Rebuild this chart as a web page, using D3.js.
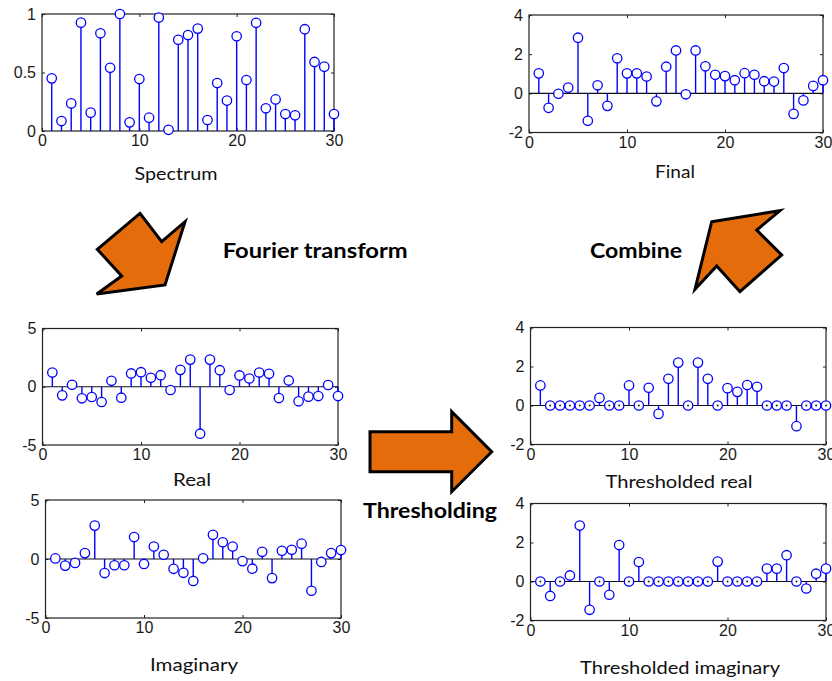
<!DOCTYPE html>
<html>
<head>
<meta charset="utf-8">
<script src="https://cdn.jsdelivr.net/npm/d3@7"></script>
<style>
  html, body { margin: 0; padding: 0; background: #ffffff; }
  svg { display: block; }
</style>
</head>
<body>
<div id="chart"></div>
<script>
// x positions of the stems (1..30) and shared tick labels
const sampleIdx = d3.range(1, 31);
const xTicks = [0, 10, 20, 30];
const ticksUnit = [0, 0.5, 1];
const ticksFour = [-2, 0, 2, 4];
const ticksFive = [-5, 0, 5];

// values
const spectrum = [0.45, 0.085, 0.236, 0.926, 0.157, 0.835, 0.54, 1.0, 0.074, 0.444,
  0.114, 0.97, 0.01, 0.78, 0.82, 0.875, 0.094, 0.41, 0.26, 0.81,
  0.436, 0.925, 0.194, 0.27, 0.145, 0.134, 0.87, 0.59, 0.55, 0.145];
const finalVals = [1.02, -0.74, -0.02, 0.29, 2.84, -1.4, 0.41, -0.64, 1.79, 1.02,
  1.02, 0.86, -0.41, 1.36, 2.19, -0.05, 2.19, 1.38, 0.95, 0.88,
  0.67, 1.03, 0.95, 0.62, 0.6, 1.29, -1.05, -0.36, 0.38, 0.67];
const realVals = [1.22, -0.74, 0.17, -0.99, -0.88, -1.31, 0.51, -0.94, 1.14, 1.25,
  0.77, 0.99, -0.28, 1.45, 2.33, -4.03, 2.33, 1.42, -0.28, 0.97,
  0.71, 1.22, 1.11, -0.97, 0.54, -1.25, -0.85, -0.8, 0.15, -0.8];
const imagVals = [0.05, -0.56, -0.33, 0.5, 2.83, -1.19, -0.53, -0.53, 1.86, -0.42,
  1.06, 0.36, -0.83, -1.17, -1.86, 0.06, 2.05, 1.42, 1.06, -0.18,
  -0.82, 0.61, -1.62, 0.7, 0.78, 1.3, -2.69, -0.25, 0.5, 0.76];
const thrRealVals = [1.03, 0, 0, 0, 0, 0, 0.39, 0, 0, 1.03,
  0, 0.91, -0.43, 1.37, 2.2, 0, 2.2, 1.37, 0, 0.89,
  0.7, 1.05, 0.96, 0, 0, 0, -1.06, 0, 0, 0];
const thrImagVals = [0, -0.74, 0, 0.31, 2.87, -1.45, 0, -0.68, 1.87, 0,
  1.0, 0, 0, 0, 0, 0, 0, 0, 1.02, 0,
  0, 0, 0, 0.66, 0.66, 1.35, 0, -0.36, 0.4, 0.66];

const width = 832, height = 681;
const blue = "#0000ff";
const orange = "#e46c0a";

const svg = d3.select("#chart")
  .append("svg")
  .attr("width", width)
  .attr("height", height);

const panels = [
  { values: spectrum, yDomain: [0, 1], yTicks: ticksUnit, box: [42, 334, 14, 131], base: false,
    title: "Spectrum", tx: 176, ty: 180, tw: 83 },
  { values: finalVals, yDomain: [-2, 4], yTicks: ticksFour, box: [529, 823, 15, 132.5], base: true,
    title: "Final", tx: 675, ty: 178, tw: 40 },
  { values: realVals, yDomain: [-5, 5], yTicks: ticksFive, box: [42.5, 338, 328.5, 445], base: true,
    title: "Real", tx: 192, ty: 486, tw: 38 },
  { values: thrRealVals, yDomain: [-2, 4], yTicks: ticksFour, box: [530.5, 826, 327.5, 444.5], base: true,
    title: "Thresholded real", tx: 679, ty: 488, tw: 147 },
  { values: imagVals, yDomain: [-5, 5], yTicks: ticksFive, box: [45.5, 341, 500, 618], base: true,
    title: "Imaginary", tx: 194, ty: 671, tw: 88 },
  { values: thrImagVals, yDomain: [-2, 4], yTicks: ticksFour, box: [530.5, 826, 503.5, 620.5], base: true,
    title: "Thresholded imaginary", tx: 680, ty: 674, tw: 200 }
];

const fmt = d => String(d);

panels.forEach(p => {
  const [x0, x1, y0, y1] = p.box;
  const x = d3.scaleLinear().domain([0, 30]).range([x0, x1]);
  const y = d3.scaleLinear().domain(p.yDomain).range([y1, y0]);
  const g = svg.append("g");

  // axes (ticks pointing inward, like matlab)
  g.append("g").attr("transform", `translate(0,${y1})`)
    .call(d3.axisBottom(x).tickValues(xTicks).tickSizeInner(-3).tickSizeOuter(0).tickPadding(4).tickFormat(fmt));
  g.append("g").attr("transform", `translate(0,${y0})`)
    .call(d3.axisTop(x).tickValues(xTicks).tickSizeInner(-3).tickSizeOuter(0).tickFormat(""));
  const left = g.append("g").attr("transform", `translate(${x0},0)`)
    .call(d3.axisLeft(y).tickValues(p.yTicks).tickSizeInner(-3).tickSizeOuter(0).tickPadding(6).tickFormat(fmt));
  g.append("g").attr("transform", `translate(${x1},0)`)
    .call(d3.axisRight(y).tickValues(p.yTicks).tickSizeInner(-3).tickSizeOuter(0).tickFormat(""));

  g.selectAll(".domain").remove();
  g.selectAll(".tick line").attr("stroke", "#222").attr("stroke-width", 1);
  g.selectAll(".tick text")
    .attr("fill", "#1a1a1a")
    .attr("font-family", "'Liberation Sans', Arial, sans-serif")
    .attr("font-size", "16px");
  left.selectAll(".tick text").attr("x", -6);

  g.append("rect")
    .attr("x", x0).attr("y", y0)
    .attr("width", x1 - x0).attr("height", y1 - y0)
    .attr("fill", "none")
    .attr("stroke", "#222")
    .attr("stroke-width", 1.2);

  // baseline at zero
  if (p.base) {
    g.append("line")
      .attr("x1", x0).attr("x2", x1)
      .attr("y1", y(0)).attr("y2", y(0))
      .attr("stroke", "#111")
      .attr("stroke-width", 1.2);
  }

  const data = sampleIdx.map((d, i) => ({ i: d, v: p.values[i] }));

  g.selectAll(".stem").data(data).enter()
    .append("line")
    .attr("class", "stem")
    .attr("x1", d => x(d.i)).attr("x2", d => x(d.i))
    .attr("y1", y(0)).attr("y2", d => y(d.v))
    .attr("stroke", blue)
    .attr("stroke-width", 1.4);

  g.selectAll(".marker").data(data).enter()
    .append("circle")
    .attr("class", "marker")
    .attr("cx", d => x(d.i))
    .attr("cy", d => y(d.v))
    .attr("r", 4.7)
    .attr("fill", "#fff")
    .attr("stroke", blue)
    .attr("stroke-width", 1.3);

  g.selectAll(".dot").data(data.filter(d => d.v === 0)).enter()
    .append("circle")
    .attr("class", "dot")
    .attr("cx", d => x(d.i))
    .attr("cy", d => y(d.v))
    .attr("r", 1)
    .attr("fill", "#223");

  svg.append("text")
    .attr("x", p.tx)
    .attr("y", p.ty)
    .attr("text-anchor", "middle")
    .attr("font-family", "Lato, 'Open Sans', sans-serif")
    .attr("font-size", "17px")
    .attr("fill", "#111")
    .attr("textLength", p.tw)
    .attr("lengthAdjust", "spacingAndGlyphs")
    .text(p.title);
});

// orange arrows
const arrows = [
  [[140, 213.3], [161.7, 241.7], [185, 221.7], [165, 285], [96.7, 294], [121.7, 276], [97.3, 249.3]],
  [[370, 431.7], [451.7, 431.7], [451.7, 411.7], [491.7, 451.7], [451.7, 491.7], [451.7, 471.7], [370, 471.7]],
  [[711.7, 221.7], [780, 210.7], [756.7, 230], [781.7, 255], [740, 291.7], [716.7, 266], [695, 289.3]]
];
svg.selectAll(".arrow").data(arrows).enter()
  .append("polygon")
  .attr("class", "arrow")
  .attr("points", d => d.map(pt => pt.join(",")).join(" "))
  .attr("fill", orange)
  .attr("stroke", "#000")
  .attr("stroke-width", 3)
  .attr("stroke-linejoin", "miter");

const labels = [
  { text: "Fourier transform", x: 222.7, y: 258.3, w: 185 },
  { text: "Combine", x: 590, y: 258.3, w: 92 },
  { text: "Thresholding", x: 363, y: 518, w: 134 }
];
svg.selectAll(".step").data(labels).enter()
  .append("text")
  .attr("class", "step")
  .attr("x", d => d.x)
  .attr("y", d => d.y)
  .attr("font-family", "Lato, 'Open Sans', sans-serif")
  .attr("font-weight", "bold")
  .attr("font-size", "21px")
  .attr("fill", "#000")
  .attr("textLength", d => d.w)
  .attr("lengthAdjust", "spacingAndGlyphs")
  .text(d => d.text);
</script>
</body>
</html>
